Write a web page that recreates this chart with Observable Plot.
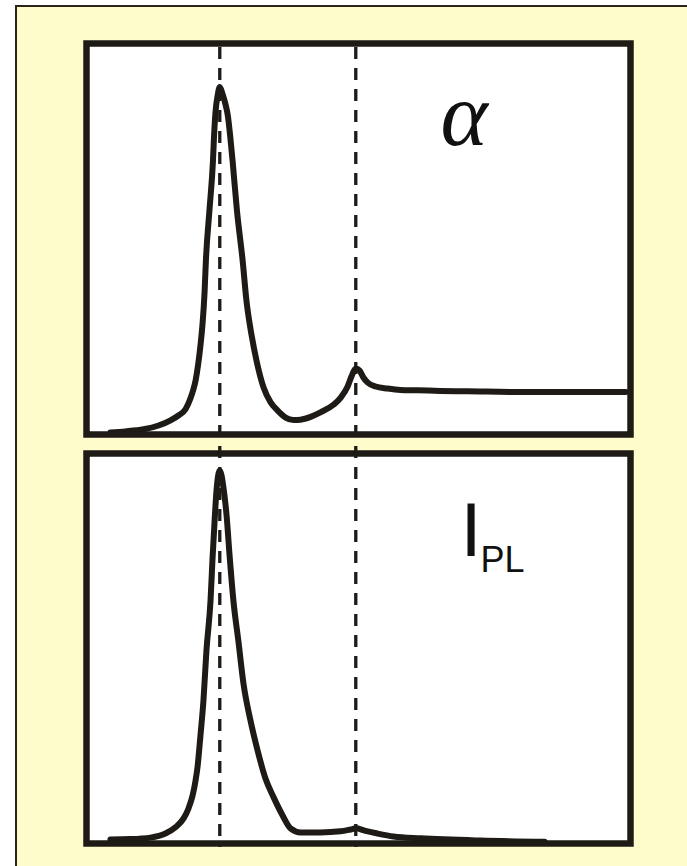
<!DOCTYPE html>
<html>
<head>
<meta charset="utf-8">
<script src="https://cdn.jsdelivr.net/npm/d3@7"></script>
<script src="https://cdn.jsdelivr.net/npm/@observablehq/plot@0.6"></script>
<style>
  html, body { margin: 0; padding: 0; background: #ffffff; }
  #page { position: relative; width: 687px; height: 866px; overflow: hidden; }
  #sheet {
    position: absolute; left: 15px; top: 5px; width: 700px; height: 900px;
    background: #fffccc; border-left: 2px solid #2b2418; border-top: 2px solid #2b2418;
  }
  .layer { position: absolute; left: 0; top: 0; pointer-events: none; }
</style>
</head>
<body>
<div id="page"><div id="sheet"></div></div>
<script>
// Photon energy (arb. units) and normalised absorption coefficient
const alphaSpectrum = [
  [1.598, 0], [1.653, 0.003], [1.720, 0.009], [1.775, 0.020], [1.819, 0.035],
  [1.848, 0.049], [1.874, 0.067], [1.892, 0.098], [1.902, 0.122], [1.911, 0.150],
  [1.920, 0.194], [1.929, 0.252], [1.937, 0.318], [1.944, 0.405], [1.949, 0.498],
  [1.962, 0.643], [1.975, 0.787], [1.979, 0.860], [1.984, 0.925], [1.992, 0.975],
  [2.000, 1.000], [2.010, 0.980], [2.021, 0.950], [2.030, 0.915], [2.038, 0.860],
  [2.047, 0.787], [2.063, 0.643], [2.084, 0.498], [2.098, 0.382], [2.117, 0.281],
  [2.135, 0.208], [2.161, 0.130], [2.187, 0.087], [2.212, 0.064], [2.242, 0.043],
  [2.271, 0.036], [2.297, 0.037], [2.334, 0.045], [2.370, 0.058], [2.418, 0.080],
  [2.444, 0.100], [2.470, 0.133], [2.484, 0.162], [2.500, 0.185], [2.514, 0.179],
  [2.528, 0.159], [2.543, 0.145], [2.573, 0.133], [2.617, 0.127], [2.664, 0.123],
  [2.727, 0.122], [2.811, 0.120], [2.911, 0.119], [3.106, 0.117], [3.326, 0.117],
  [3.492, 0.117]
];

// Photon energy and normalised photoluminescence intensity
const plSpectrum = [
  [1.598, 0], [1.672, 0.001], [1.745, 0.005], [1.800, 0.016], [1.837, 0.033],
  [1.867, 0.057], [1.885, 0.084], [1.900, 0.119], [1.911, 0.160], [1.918, 0.195],
  [1.929, 0.282], [1.940, 0.377], [1.951, 0.512], [1.966, 0.648], [1.973, 0.756],
  [1.981, 0.864], [1.988, 0.946], [2.000, 1.000], [2.014, 0.951], [2.025, 0.878],
  [2.036, 0.770], [2.050, 0.648], [2.069, 0.534], [2.087, 0.423], [2.113, 0.322],
  [2.139, 0.241], [2.168, 0.165], [2.198, 0.114], [2.231, 0.065], [2.260, 0.030],
  [2.297, 0.019], [2.370, 0.019], [2.444, 0.022], [2.481, 0.027], [2.500, 0.030],
  [2.532, 0.024], [2.580, 0.016], [2.639, 0.008], [2.738, 0.003], [2.959, -0.003],
  [3.194, -0.006]
];

// Resonance positions marked by the dashed guides
const resonances = [2.0, 2.5];

const energyDomain = [1.51, 3.51];
const alphaDomain = [-0.006, 1.126];
const plDomain = [-0.011, 1.046];

const ink = "#1e1a16";
const W = 687, H = 866;
const common = {
  width: W, height: H, marginLeft: 86, marginRight: 57,
  style: { background: "transparent", overflow: "visible" }
};

function panel(data, yDomain, marginTop, marginBottom, labels) {
  return Plot.plot({
    ...common, marginTop, marginBottom,
    x: { domain: energyDomain, axis: null },
    y: { domain: yDomain, axis: null },
    marks: [
      Plot.frame({ fill: "white", stroke: null }),
      Plot.line(data, { x: d => d[0], y: d => d[1], stroke: ink, strokeWidth: 6,
        curve: "monotone-x", strokeLinejoin: "round", strokeLinecap: "round" }),
      ...labels,
      Plot.frame({ stroke: ink, strokeWidth: 6.5, fill: null })
    ]
  });
}

const alphaPlot = panel(alphaSpectrum, alphaDomain, 43, H - 434, [
  Plot.text(["α"], { frameAnchor: "top-left", textAnchor: "start", lineAnchor: "bottom",
    dx: 354, dy: 101, fontSize: 90, fontStyle: "italic",
    fontFamily: "Liberation Serif, serif", fill: "#111" })
]);

const plPlot = panel(plSpectrum, plDomain, 453, H - 843, [
  Plot.text(["I"], { frameAnchor: "top-left", textAnchor: "start", lineAnchor: "bottom",
    dx: 374, dy: 102, fontSize: 76, fontFamily: "Liberation Sans, Arial, sans-serif", fill: "#111" }),
  Plot.text(["PL"], { frameAnchor: "top-left", textAnchor: "start", lineAnchor: "bottom",
    dx: 394, dy: 118, fontSize: 36, fontFamily: "Liberation Sans, Arial, sans-serif", fill: "#111" })
]);

// Dashed guides running through both panels
const guides = Plot.plot({
  ...common, marginTop: 47, marginBottom: H - 847,
  x: { domain: energyDomain, axis: null },
  marks: [
    Plot.ruleX(resonances, { stroke: ink, strokeWidth: 3.3, strokeDasharray: "12,9" })
  ]
});

const page = document.getElementById("page");
for (const svg of [alphaPlot, plPlot, guides]) {
  svg.classList.add("layer");
  page.appendChild(svg);
}
</script>
</body>
</html>
